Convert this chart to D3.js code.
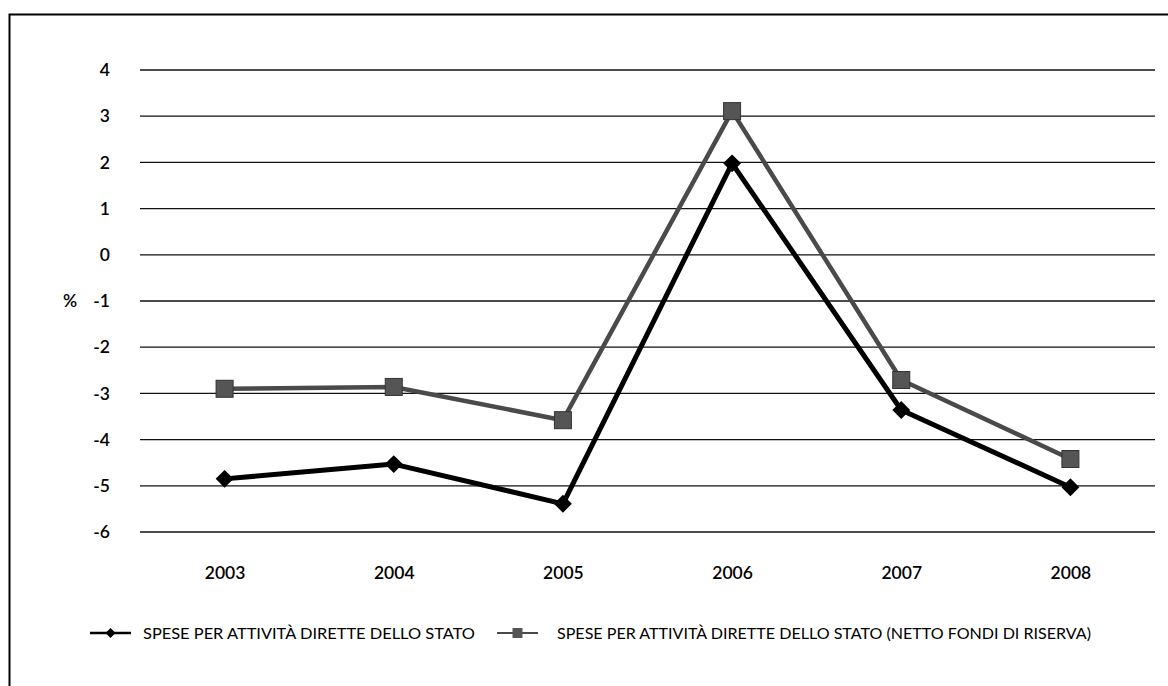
<!DOCTYPE html>
<html>
<head>
<meta charset="utf-8">
<script src="https://cdn.jsdelivr.net/npm/d3@7"></script>
<style>
  body { margin: 0; background: #fff; }
  svg text { font-family: Lato, "Open Sans", sans-serif; fill: #000; }
</style>
</head>
<body>
<svg id="chart" width="1168" height="686"></svg>
<script>
const years = ["2003", "2004", "2005", "2006", "2007", "2008"];
const spese = [-4.85, -4.53, -5.39, 1.98, -3.36, -5.03];
const speseNetto = [-2.90, -2.86, -3.58, 3.11, -2.71, -4.42];
const yTicks = [4, 3, 2, 1, 0, -1, -2, -3, -4, -5, -6];
const seriesNames = [
  "SPESE PER ATTIVITÀ DIRETTE DELLO STATO",
  "SPESE PER ATTIVITÀ DIRETTE DELLO STATO (NETTO FONDI DI RISERVA)"
];

const svg = d3.select("#chart");

// outer frame
svg.append("path")
  .attr("d", "M9.5,686 L9.5,14.5 L1168,14.5")
  .attr("fill", "none").attr("stroke", "#000").attr("stroke-width", 2);

const plotLeft = 140, plotRight = 1155, plotTop = 70, plotBottom = 532;

const x = d3.scalePoint().domain(years).range([plotLeft, plotRight]).padding(0.5);
const y = d3.scaleLinear().domain([-6, 4]).range([plotBottom, plotTop]);

// horizontal gridlines
svg.append("g").selectAll("line").data(yTicks).join("line")
  .attr("x1", plotLeft).attr("x2", plotRight)
  .attr("y1", d => y(d)).attr("y2", d => y(d))
  .attr("stroke", "#111").attr("stroke-width", 1.3);

// y axis labels (plain hyphen for negatives)
svg.append("g")
  .attr("transform", `translate(${plotLeft - 30},0)`)
  .call(d3.axisLeft(y).tickValues(yTicks).tickSize(0).tickPadding(0).tickFormat(d => String(d)))
  .call(g => g.select(".domain").remove())
  .selectAll("text")
  .attr("font-size", 17.5).attr("font-weight", 600)
  .style("font-family", "Lato, 'Open Sans', sans-serif");

svg.append("text").attr("x", 70).attr("y", y(-1) + 6)
  .attr("text-anchor", "middle").attr("font-size", 17.5).attr("font-weight", 600).text("%");

// x axis labels
svg.append("g")
  .attr("transform", `translate(0,${plotBottom + 35})`)
  .call(d3.axisBottom(x).tickSize(0).tickPadding(0))
  .call(g => g.select(".domain").remove())
  .selectAll("text")
  .attr("font-size", 17.5).attr("font-weight", 600)
  .style("font-family", "Lato, 'Open Sans', sans-serif");

const line = d3.line().x((d, i) => x(years[i])).y(d => y(d));

// net series (gray, squares)
svg.append("path").datum(speseNetto)
  .attr("d", line).attr("fill", "none")
  .attr("stroke", "#4a4a4a").attr("stroke-width", 4.5).attr("stroke-linejoin", "round");
svg.append("g").selectAll("rect").data(speseNetto).join("rect")
  .attr("x", (d, i) => x(years[i]) - 8.5).attr("y", d => y(d) - 8.5)
  .attr("width", 17).attr("height", 17)
  .attr("fill", "#555").attr("stroke", "#333").attr("stroke-width", 1);

// main series (black, diamonds)
svg.append("path").datum(spese)
  .attr("d", line).attr("fill", "none")
  .attr("stroke", "#000").attr("stroke-width", 5).attr("stroke-linejoin", "round");
svg.append("g").selectAll("path").data(spese).join("path")
  .attr("transform", (d, i) => `translate(${x(years[i])},${y(d)}) rotate(45)`)
  .attr("d", d3.symbol().type(d3.symbolSquare).size(160))
  .attr("fill", "#000");

// legend
const legY = 633;
const leg1 = svg.append("g");
leg1.append("line").attr("x1", 90).attr("x2", 131).attr("y1", legY).attr("y2", legY)
  .attr("stroke", "#000").attr("stroke-width", 2.5);
leg1.append("path").attr("transform", `translate(110.5,${legY}) rotate(45)`)
  .attr("d", d3.symbol().type(d3.symbolSquare).size(50)).attr("fill", "#000");
leg1.append("text").attr("x", 143).attr("y", legY + 6).attr("font-size", 16)
  .attr("textLength", 332).attr("lengthAdjust", "spacingAndGlyphs").text(seriesNames[0]);

const leg2 = svg.append("g");
leg2.append("line").attr("x1", 497).attr("x2", 538).attr("y1", legY).attr("y2", legY)
  .attr("stroke", "#4a4a4a").attr("stroke-width", 2);
leg2.append("rect").attr("x", 512.5).attr("y", legY - 5).attr("width", 10).attr("height", 10)
  .attr("fill", "#555");
leg2.append("text").attr("x", 557).attr("y", legY + 6).attr("font-size", 16)
  .attr("textLength", 534).attr("lengthAdjust", "spacingAndGlyphs").text(seriesNames[1]);
</script>
</body>
</html>
